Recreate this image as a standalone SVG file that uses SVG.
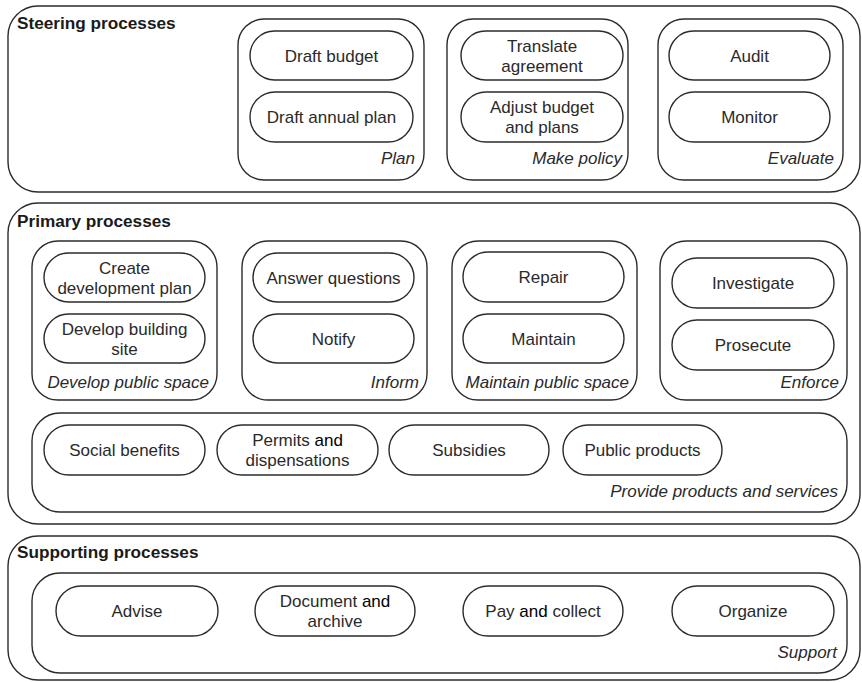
<svg xmlns="http://www.w3.org/2000/svg" width="862" height="682" viewBox="0 0 862 682">
<style>
.outer{fill:none;stroke:#2b2b2b;stroke-width:1.4}
.grp{fill:none;stroke:#2b2b2b;stroke-width:1.4}
.pill{fill:#fff;stroke:#2b2b2b;stroke-width:1.4}
.t{font-family:"Liberation Sans",Arial,sans-serif;font-size:17px;fill:#2a2a2a;text-anchor:middle}
.h{font-family:"Liberation Sans",Arial,sans-serif;font-size:17.2px;font-weight:bold;fill:#1a1a1a}
.i{font-family:"Liberation Sans",Arial,sans-serif;font-size:17px;font-style:italic;fill:#2a2a2a;text-anchor:end}
.a{fill:#000}
</style>
<rect width="862" height="682" fill="#fff"/>

<g id="steering">
<rect class="outer" x="8" y="6" width="852" height="186" rx="30"/>
<text class="h" x="17" y="29">Steering processes</text>
</g>
<g id="plan">
<rect class="grp" x="238" y="19" width="186" height="161" rx="26"/>
<text class="i" x="415" y="164">Plan</text>
</g>
<g id="draft-budget"><rect class="pill" x="250" y="31" width="163" height="49" rx="24.5"/><text class="t" x="331.5" y="61.5">Draft budget</text></g>
<g id="draft-annual-plan"><rect class="pill" x="250" y="92" width="163" height="50" rx="25"/><text class="t" x="331.5" y="123">Draft annual plan</text></g>
<g id="make-policy">
<rect class="grp" x="447" y="19" width="181" height="161" rx="26"/>
<text class="i" x="622" y="164">Make policy</text>
</g>
<g id="translate-agreement"><rect class="pill" x="461" y="31" width="162" height="49" rx="24.5"/><text class="t" x="542" y="51.5">Translate</text><text class="t" x="542" y="71.5">agreement</text></g>
<g id="adjust-budget"><rect class="pill" x="461" y="92" width="162" height="50" rx="25"/><text class="t" x="542" y="113">Adjust budget</text><text class="t" x="542" y="133">and plans</text></g>
<g id="evaluate">
<rect class="grp" x="658" y="19" width="185" height="161" rx="26"/>
<text class="i" x="834" y="164">Evaluate</text>
</g>
<g id="audit"><rect class="pill" x="669" y="31" width="161" height="49" rx="24.5"/><text class="t" x="749.5" y="61.5">Audit</text></g>
<g id="monitor"><rect class="pill" x="669" y="92" width="161" height="50" rx="25"/><text class="t" x="749.5" y="123">Monitor</text></g>

<g id="primary">
<rect class="outer" x="8" y="203" width="852" height="321" rx="30"/>
<text class="h" x="17" y="227">Primary processes</text>
</g>
<g id="develop-public-space">
<rect class="grp" x="32" y="241" width="185" height="159" rx="26"/>
<text class="i" x="209" y="388">Develop public space</text>
</g>
<g id="create-development-plan"><rect class="pill" x="44" y="253" width="161" height="49" rx="24.5"/><text class="t" x="124.5" y="273.5">Create</text><text class="t" x="124.5" y="293.5">development plan</text></g>
<g id="develop-building-site"><rect class="pill" x="44" y="314" width="161" height="49" rx="24.5"/><text class="t" x="124.5" y="334.5">Develop building</text><text class="t" x="124.5" y="354.5">site</text></g>
<g id="inform">
<rect class="grp" x="242" y="241" width="185" height="159" rx="26"/>
<text class="i" x="419" y="388">Inform</text>
</g>
<g id="answer-questions"><rect class="pill" x="253" y="253" width="161" height="49" rx="24.5"/><text class="t" x="333.5" y="283.5">Answer questions</text></g>
<g id="notify"><rect class="pill" x="253" y="314" width="161" height="49" rx="24.5"/><text class="t" x="333.5" y="344.5">Notify</text></g>
<g id="maintain-public-space">
<rect class="grp" x="452" y="241" width="185" height="159" rx="26"/>
<text class="i" x="629" y="388">Maintain public space</text>
</g>
<g id="repair"><rect class="pill" x="463" y="252" width="161" height="50" rx="25"/><text class="t" x="543.5" y="283">Repair</text></g>
<g id="maintain"><rect class="pill" x="463" y="314" width="161" height="49" rx="24.5"/><text class="t" x="543.5" y="344.5">Maintain</text></g>
<g id="enforce">
<rect class="grp" x="660" y="241" width="187" height="159" rx="26"/>
<text class="i" x="839" y="388">Enforce</text>
</g>
<g id="investigate"><rect class="pill" x="672" y="258" width="162" height="50" rx="25"/><text class="t" x="753" y="289">Investigate</text></g>
<g id="prosecute"><rect class="pill" x="672" y="320" width="162" height="50" rx="25"/><text class="t" x="753" y="351">Prosecute</text></g>
<g id="provide-products-services">
<rect class="grp" x="32" y="413" width="815" height="99" rx="28"/>
<text class="i" x="838" y="497">Provide products and services</text>
</g>
<g id="social-benefits"><rect class="pill" x="44" y="425" width="161" height="50" rx="25"/><text class="t" x="124.5" y="456">Social benefits</text></g>
<g id="permits"><rect class="pill" x="217" y="425" width="161" height="50" rx="25"/><text class="t" x="297.5" y="446">Permits <tspan class="a">and</tspan></text><text class="t" x="297.5" y="466">dispensations</text></g>
<g id="subsidies"><rect class="pill" x="389" y="425" width="160" height="50" rx="25"/><text class="t" x="469" y="456">Subsidies</text></g>
<g id="public-products"><rect class="pill" x="563" y="425" width="159" height="50" rx="25"/><text class="t" x="642.5" y="456">Public products</text></g>

<g id="supporting">
<rect class="outer" x="8" y="536" width="852" height="144" rx="30"/>
<text class="h" x="17" y="558">Supporting processes</text>
</g>
<g id="support">
<rect class="grp" x="32" y="573" width="815" height="100" rx="28"/>
<text class="i" x="837" y="658">Support</text>
</g>
<g id="advise"><rect class="pill" x="56" y="586" width="162" height="50" rx="25"/><text class="t" x="137" y="617">Advise</text></g>
<g id="document-archive"><rect class="pill" x="255" y="586" width="160" height="50" rx="25"/><text class="t" x="335" y="607">Document <tspan class="a">and</tspan></text><text class="t" x="335" y="627">archive</text></g>
<g id="pay-collect"><rect class="pill" x="463" y="586" width="160" height="50" rx="25"/><text class="t" x="543" y="617">Pay <tspan class="a">and</tspan> collect</text></g>
<g id="organize"><rect class="pill" x="672" y="586" width="162" height="50" rx="25"/><text class="t" x="753" y="617">Organize</text></g>
<g id="connectors"/>
</svg>
